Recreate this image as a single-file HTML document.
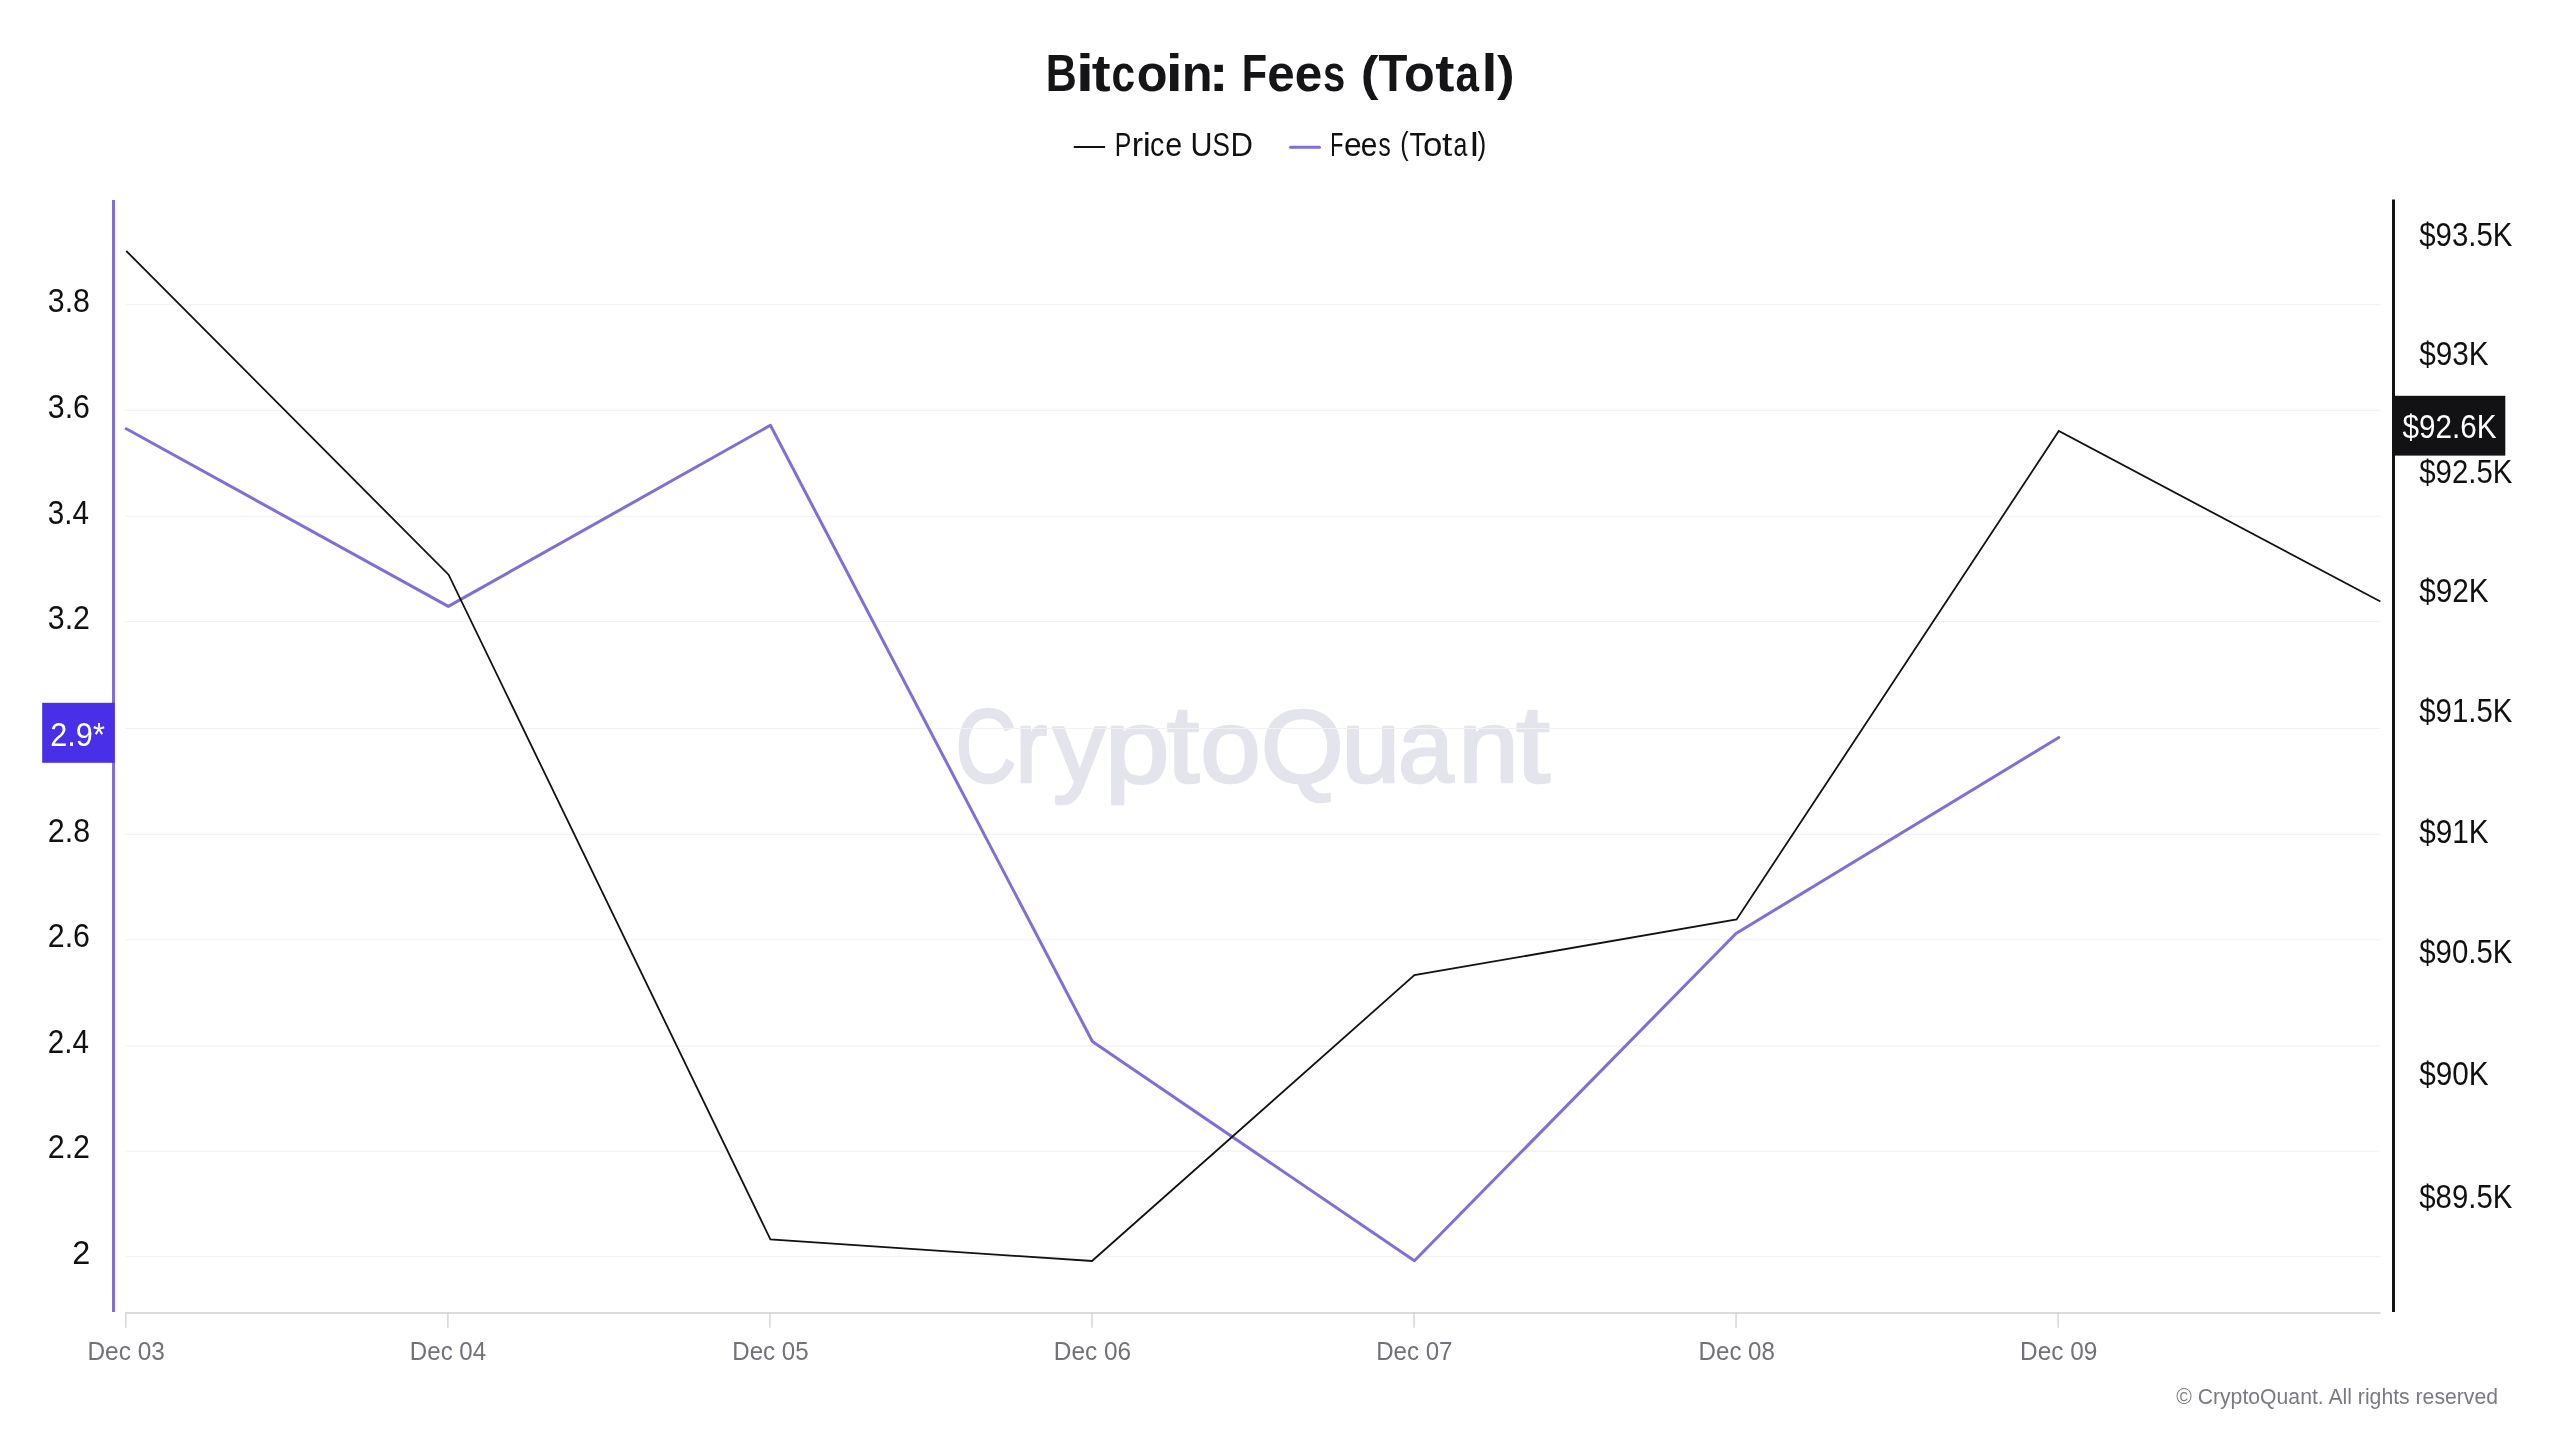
<!DOCTYPE html>
<html><head><meta charset="utf-8"><title>Bitcoin: Fees (Total)</title>
<style>
html,body{margin:0;padding:0;background:#fff;}
body{width:2560px;height:1440px;overflow:hidden;}
svg{display:block;will-change:transform;font-family:"Liberation Sans",Arial,sans-serif;}
</style></head><body>
<svg width="2560" height="1440" viewBox="0 0 2560 1440">
<rect width="2560" height="1440" fill="#fff"/>
<text y="781.70" font-size="103.05" font-weight="normal" fill="#e3e4ec" stroke="#e3e4ec" stroke-width="2.6" stroke-linejoin="round"><tspan x="955.43" y="781.70" textLength="61.00" lengthAdjust="spacingAndGlyphs">C</tspan><tspan x="1015.26" y="781.70" textLength="32.02" lengthAdjust="spacingAndGlyphs">r</tspan><tspan x="1053.09" y="781.70" textLength="52.41" lengthAdjust="spacingAndGlyphs">y</tspan><tspan x="1104.68" y="781.70" textLength="64.80" lengthAdjust="spacingAndGlyphs">p</tspan><tspan x="1166.66" font-size="110.27" y="781.70" textLength="32.63" lengthAdjust="spacingAndGlyphs">t</tspan><tspan x="1200.17" y="781.70" textLength="60.52" lengthAdjust="spacingAndGlyphs">o</tspan><tspan x="1260.85" y="781.70" textLength="83.02" lengthAdjust="spacingAndGlyphs">Q</tspan><tspan x="1341.63" y="781.70" textLength="58.64" lengthAdjust="spacingAndGlyphs">u</tspan><tspan x="1397.96" y="781.70" textLength="55.74" lengthAdjust="spacingAndGlyphs">a</tspan><tspan x="1458.31" y="781.70" textLength="60.58" lengthAdjust="spacingAndGlyphs">n</tspan><tspan x="1516.08" font-size="110.27" y="781.70" textLength="34.02" lengthAdjust="spacingAndGlyphs">t</tspan></text>
<line x1="125.5" y1="304.6" x2="2380.5" y2="304.6" stroke="#f2f2f2" stroke-width="1.2"/>
<line x1="125.5" y1="410.3" x2="2380.5" y2="410.3" stroke="#f2f2f2" stroke-width="1.2"/>
<line x1="125.5" y1="516.3" x2="2380.5" y2="516.3" stroke="#f2f2f2" stroke-width="1.2"/>
<line x1="125.5" y1="621.5" x2="2380.5" y2="621.5" stroke="#f2f2f2" stroke-width="1.2"/>
<line x1="125.5" y1="728.5" x2="2380.5" y2="728.5" stroke="#f2f2f2" stroke-width="1.2"/>
<line x1="125.5" y1="834.3" x2="2380.5" y2="834.3" stroke="#f2f2f2" stroke-width="1.2"/>
<line x1="125.5" y1="939.7" x2="2380.5" y2="939.7" stroke="#f2f2f2" stroke-width="1.2"/>
<line x1="125.5" y1="1045.8" x2="2380.5" y2="1045.8" stroke="#f2f2f2" stroke-width="1.2"/>
<line x1="125.5" y1="1151.2" x2="2380.5" y2="1151.2" stroke="#f2f2f2" stroke-width="1.2"/>
<line x1="125.5" y1="1256.6" x2="2380.5" y2="1256.6" stroke="#f2f2f2" stroke-width="1.2"/>
<line x1="125" y1="1313" x2="2380.6" y2="1313" stroke="#d0d0d0" stroke-width="1.5"/>
<line x1="125.80" y1="1312" x2="125.80" y2="1327.7" stroke="#d6d6d6" stroke-width="1.5"/>
<line x1="447.85" y1="1312" x2="447.85" y2="1327.7" stroke="#d6d6d6" stroke-width="1.5"/>
<line x1="769.90" y1="1312" x2="769.90" y2="1327.7" stroke="#d6d6d6" stroke-width="1.5"/>
<line x1="1091.95" y1="1312" x2="1091.95" y2="1327.7" stroke="#d6d6d6" stroke-width="1.5"/>
<line x1="1414.00" y1="1312" x2="1414.00" y2="1327.7" stroke="#d6d6d6" stroke-width="1.5"/>
<line x1="1736.05" y1="1312" x2="1736.05" y2="1327.7" stroke="#d6d6d6" stroke-width="1.5"/>
<line x1="2058.10" y1="1312" x2="2058.10" y2="1327.7" stroke="#d6d6d6" stroke-width="1.5"/>
<text x="87.46" y="1359.80" font-size="25.58" font-weight="normal" fill="#717179" textLength="77.34" lengthAdjust="spacingAndGlyphs">Dec 03</text>
<text x="409.87" y="1359.80" font-size="25.58" font-weight="normal" fill="#717179" textLength="76.27" lengthAdjust="spacingAndGlyphs">Dec 04</text>
<text x="732.28" y="1359.80" font-size="25.58" font-weight="normal" fill="#717179" textLength="76.28" lengthAdjust="spacingAndGlyphs">Dec 05</text>
<text x="1053.79" y="1359.80" font-size="25.58" font-weight="normal" fill="#717179" textLength="77.33" lengthAdjust="spacingAndGlyphs">Dec 06</text>
<text x="1376.20" y="1359.80" font-size="25.58" font-weight="normal" fill="#717179" textLength="76.28" lengthAdjust="spacingAndGlyphs">Dec 07</text>
<text x="1698.61" y="1359.80" font-size="25.58" font-weight="normal" fill="#717179" textLength="76.28" lengthAdjust="spacingAndGlyphs">Dec 08</text>
<text x="2020.12" y="1359.80" font-size="25.58" font-weight="normal" fill="#717179" textLength="77.33" lengthAdjust="spacingAndGlyphs">Dec 09</text>
<text x="47.78" y="311.80" font-size="32.77" font-weight="normal" fill="#111" textLength="42.22" lengthAdjust="spacingAndGlyphs">3.8</text>
<text x="47.78" y="417.50" font-size="32.77" font-weight="normal" fill="#111" textLength="42.22" lengthAdjust="spacingAndGlyphs">3.6</text>
<text x="47.78" y="523.50" font-size="32.77" font-weight="normal" fill="#111" textLength="41.14" lengthAdjust="spacingAndGlyphs">3.4</text>
<text x="47.78" y="628.70" font-size="32.77" font-weight="normal" fill="#111" textLength="42.22" lengthAdjust="spacingAndGlyphs">3.2</text>
<text x="47.78" y="841.50" font-size="32.77" font-weight="normal" fill="#111" textLength="42.31" lengthAdjust="spacingAndGlyphs">2.8</text>
<text x="47.78" y="946.90" font-size="32.77" font-weight="normal" fill="#111" textLength="42.28" lengthAdjust="spacingAndGlyphs">2.6</text>
<text x="47.78" y="1053.00" font-size="32.77" font-weight="normal" fill="#111" textLength="41.17" lengthAdjust="spacingAndGlyphs">2.4</text>
<text x="47.78" y="1158.40" font-size="32.77" font-weight="normal" fill="#111" textLength="42.28" lengthAdjust="spacingAndGlyphs">2.2</text>
<text x="72.28" y="1263.80" font-size="32.77" font-weight="normal" fill="#111" textLength="18.02" lengthAdjust="spacingAndGlyphs">2</text>
<polyline points="126.3,428.8 448.3,606.4 770.4,425.3 1092.4,1041.5 1414.4,1260.8 1736.0,933.5 2058.8,737.5" fill="none" stroke="#7f6fd6" stroke-width="3" stroke-linejoin="round" stroke-linecap="round"/>
<polyline points="126.3,251.0 448.6,574.7 770.4,1239.4 1092.0,1261.0 1414.4,975.2 1736.6,919.5 2058.8,431.0 2380.4,601.5" fill="none" stroke="#121214" stroke-width="1.8" stroke-linejoin="miter"/>
<rect x="112" y="200" width="3" height="1112" fill="#7f6fd6"/>
<rect x="2392" y="199.5" width="3" height="1112.5" fill="#121214"/>
<text y="91.30" font-size="51.74" font-weight="bold" fill="#151518"><tspan x="1045.78" y="91.30" textLength="31.02" lengthAdjust="spacingAndGlyphs">B</tspan><tspan x="1075.87" y="91.30" textLength="18.42" lengthAdjust="spacingAndGlyphs">i</tspan><tspan x="1091.89" y="91.30" textLength="18.86" lengthAdjust="spacingAndGlyphs">t</tspan><tspan x="1111.62" y="91.30" textLength="23.62" lengthAdjust="spacingAndGlyphs">c</tspan><tspan x="1136.67" y="91.30" textLength="30.77" lengthAdjust="spacingAndGlyphs">o</tspan><tspan x="1165.87" y="91.30" textLength="17.01" lengthAdjust="spacingAndGlyphs">i</tspan><tspan x="1181.77" y="91.30" textLength="30.89" lengthAdjust="spacingAndGlyphs">n</tspan><tspan x="1208.86" y="91.30" textLength="19.93" lengthAdjust="spacingAndGlyphs">:</tspan><tspan> </tspan><tspan x="1241.72" y="91.30" textLength="25.34" lengthAdjust="spacingAndGlyphs">F</tspan><tspan x="1267.20" y="91.30" textLength="27.44" lengthAdjust="spacingAndGlyphs">e</tspan><tspan x="1294.83" y="91.30" textLength="27.53" lengthAdjust="spacingAndGlyphs">e</tspan><tspan x="1322.94" y="91.30" textLength="22.22" lengthAdjust="spacingAndGlyphs">s</tspan><tspan> </tspan><tspan x="1360.72" font-size="47.45" y="89.80" textLength="17.79" lengthAdjust="spacingAndGlyphs">(</tspan><tspan x="1378.47" y="91.30" textLength="28.90" lengthAdjust="spacingAndGlyphs">T</tspan><tspan x="1403.99" y="91.30" textLength="30.79" lengthAdjust="spacingAndGlyphs">o</tspan><tspan x="1435.26" y="91.30" textLength="19.18" lengthAdjust="spacingAndGlyphs">t</tspan><tspan x="1455.57" y="91.30" textLength="23.46" lengthAdjust="spacingAndGlyphs">a</tspan><tspan x="1481.45" y="91.30" textLength="15.97" lengthAdjust="spacingAndGlyphs">l</tspan><tspan x="1497.00" font-size="47.45" y="89.80" textLength="17.64" lengthAdjust="spacingAndGlyphs">)</tspan></text>
<line x1="1073.8" y1="147.1" x2="1105.1" y2="147.1" stroke="#121214" stroke-width="2"/>
<text y="155.50" font-size="33.28" font-weight="normal" fill="#111"><tspan x="1114.70" textLength="16.55" lengthAdjust="spacingAndGlyphs">P</tspan><tspan x="1131.80" textLength="11.31" lengthAdjust="spacingAndGlyphs">r</tspan><tspan x="1142.80" textLength="8.10" lengthAdjust="spacingAndGlyphs">i</tspan><tspan x="1150.10" textLength="14.33" lengthAdjust="spacingAndGlyphs">c</tspan><tspan x="1165.30" textLength="17.00" lengthAdjust="spacingAndGlyphs">e</tspan><tspan> </tspan><tspan x="1190.50" textLength="22.00" lengthAdjust="spacingAndGlyphs">U</tspan><tspan x="1212.50" textLength="17.41" lengthAdjust="spacingAndGlyphs">S</tspan><tspan x="1230.50" textLength="22.42" lengthAdjust="spacingAndGlyphs">D</tspan></text>
<line x1="1290.5" y1="147.3" x2="1319.5" y2="147.3" stroke="#7f6fd6" stroke-width="3" stroke-linecap="round"/>
<text y="155.50" font-size="33.28" font-weight="normal" fill="#111"><tspan x="1330.20" y="155.50" textLength="13.09" lengthAdjust="spacingAndGlyphs">F</tspan><tspan x="1344.10" y="155.50" textLength="17.68" lengthAdjust="spacingAndGlyphs">e</tspan><tspan x="1360.80" y="155.50" textLength="16.64" lengthAdjust="spacingAndGlyphs">e</tspan><tspan x="1378.50" y="155.50" textLength="12.23" lengthAdjust="spacingAndGlyphs">s</tspan><tspan> </tspan><tspan x="1400.30" font-size="30.49" y="154.40" textLength="8.41" lengthAdjust="spacingAndGlyphs">(</tspan><tspan x="1409.50" y="155.50" textLength="16.58" lengthAdjust="spacingAndGlyphs">T</tspan><tspan x="1423.10" y="155.50" textLength="19.42" lengthAdjust="spacingAndGlyphs">o</tspan><tspan x="1442.00" y="155.50" textLength="10.25" lengthAdjust="spacingAndGlyphs">t</tspan><tspan x="1453.50" y="155.50" textLength="13.83" lengthAdjust="spacingAndGlyphs">a</tspan><tspan x="1470.10" y="155.50" textLength="8.83" lengthAdjust="spacingAndGlyphs">l</tspan><tspan x="1477.60" font-size="30.49" y="154.40" textLength="8.75" lengthAdjust="spacingAndGlyphs">)</tspan></text>
<text x="2176.18" y="1403.80" font-size="22.74" font-weight="normal" fill="#7a7a85" textLength="321.81" lengthAdjust="spacingAndGlyphs">© CryptoQuant. All rights reserved</text>
<rect x="42.2" y="702.8" width="72.5" height="60" fill="#4a2fe8"/>
<text x="50.28" y="745.60" font-size="32.77" font-weight="normal" fill="#fff" textLength="54.63" lengthAdjust="spacingAndGlyphs">2.9*</text>
<rect x="2392" y="395.8" width="113.3" height="59.8" fill="#121214"/>
<text x="2402.52" y="438.40" font-size="33.05" font-weight="normal" fill="#fff" textLength="93.97" lengthAdjust="spacingAndGlyphs">$92.6K</text>
<text x="2419.26" y="246.20" font-size="32.49" font-weight="normal" fill="#111" textLength="93.13" lengthAdjust="spacingAndGlyphs">$93.5K</text>
<text x="2419.26" y="364.90" font-size="32.49" font-weight="normal" fill="#111" textLength="69.46" lengthAdjust="spacingAndGlyphs">$93K</text>
<text x="2419.26" y="483.00" font-size="32.49" font-weight="normal" fill="#111" textLength="93.13" lengthAdjust="spacingAndGlyphs">$92.5K</text>
<text x="2419.26" y="601.50" font-size="32.49" font-weight="normal" fill="#111" textLength="69.46" lengthAdjust="spacingAndGlyphs">$92K</text>
<text x="2419.26" y="721.80" font-size="32.49" font-weight="normal" fill="#111" textLength="93.13" lengthAdjust="spacingAndGlyphs">$91.5K</text>
<text x="2419.26" y="843.30" font-size="32.49" font-weight="normal" fill="#111" textLength="69.46" lengthAdjust="spacingAndGlyphs">$91K</text>
<text x="2419.26" y="962.80" font-size="32.49" font-weight="normal" fill="#111" textLength="93.13" lengthAdjust="spacingAndGlyphs">$90.5K</text>
<text x="2419.26" y="1084.80" font-size="32.49" font-weight="normal" fill="#111" textLength="69.46" lengthAdjust="spacingAndGlyphs">$90K</text>
<text x="2419.26" y="1207.80" font-size="32.49" font-weight="normal" fill="#111" textLength="93.13" lengthAdjust="spacingAndGlyphs">$89.5K</text>
</svg>
</body></html>
